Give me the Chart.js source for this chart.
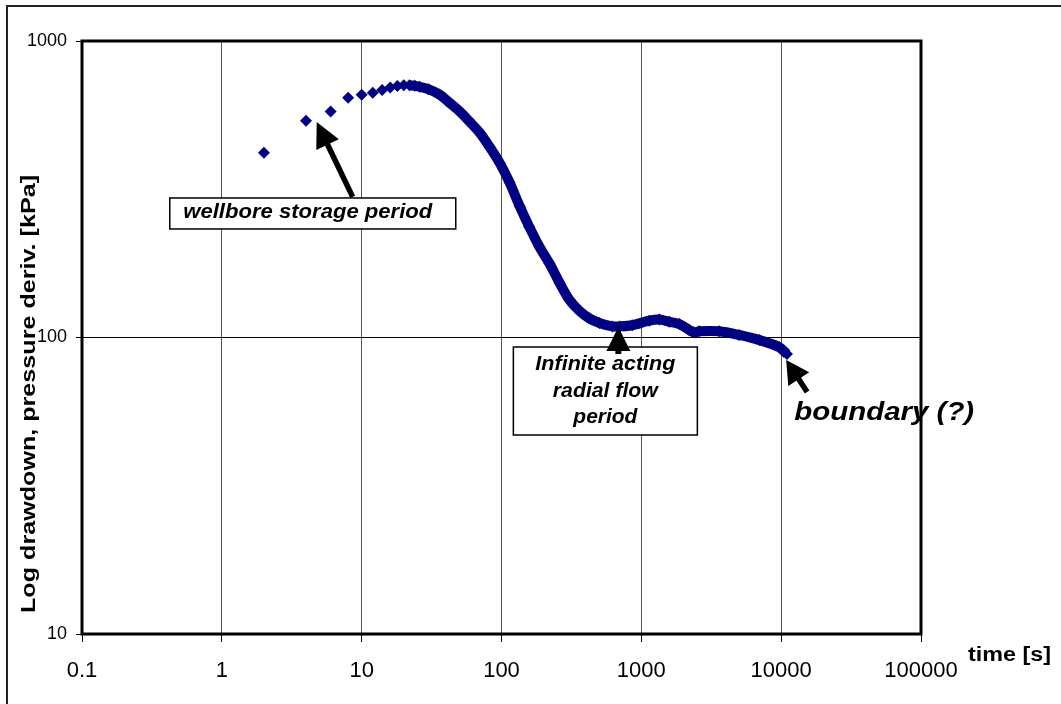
<!DOCTYPE html>
<html>
<head>
<meta charset="utf-8">
<script src="https://cdn.jsdelivr.net/npm/chart.js@4.4.0/dist/chart.umd.min.js"></script>
<style>
  html, body { margin: 0; padding: 0; background: #fff; }
  #wrap { width: 1061px; height: 704px; }
</style>
</head>
<body>
<div id="wrap"><canvas id="myChart" width="1061" height="704"></canvas></div>
<script>
// pressure derivative vs. elapsed time (drawdown test)
var times = [2, 4, 6, 8, 10, 12, 14, 16, 18, 20, 22, 24, 26, 30, 36, 42, 50, 59, 70, 82, 97, 114, 135, 158, 187, 220, 260, 306, 361, 425, 501, 620, 700, 860, 1140, 1345, 1585, 1870, 2200, 2390, 2600, 3600, 5000, 7000, 9700, 11000];
var derivs = [420, 538, 578, 644, 659, 669, 683, 697, 705, 709, 709, 706, 701, 688, 660, 622, 580, 535, 490, 440, 388, 334, 277, 236, 202, 178, 153, 134, 123, 116, 112, 109, 109, 110, 114, 115, 113, 111, 106, 104, 105, 105, 102, 98, 92.7, 88];

var xTicks = [0.1, 1, 10, 100, 1000, 10000, 100000];
var xTickLabels = ['0.1', '1', '10', '100', '1000', '10000', '100000'];
var yTicks = [10, 100, 1000];
var yTickLabels = ['10', '100', '1000'];

// time from which the readings merge into a continuous band
var bandStart = 21;

var navy = '#000080';

// callouts, anchored in data units (time, kPa)
var callouts = {
  storage: { box: [4.47, 262], w: 286, h: 31, tip: [4.77, 533], tail: [8.62, 298] },
  radial: { box: [553, 66], w: 184, h: 88, tip: [685, 108.5], tail: [685, 88] },
  boundary: { text: [12390, 52.7], tip: [10856, 84], tail: [15330, 65.5] }
};

function fitText(ctx, text, x, y, font, width, align) {
  ctx.save();
  ctx.font = font;
  ctx.textAlign = align || 'left';
  ctx.textBaseline = 'alphabetic';
  var sx = width / ctx.measureText(text).width;
  ctx.translate(x, y);
  ctx.scale(sx, 1);
  ctx.fillStyle = '#000';
  ctx.fillText(text, 0, 0);
  ctx.restore();
}

function drawArrow(ctx, x1, y1, x2, y2, headLen, headW, shaftW) {
  var dx = x2 - x1, dy = y2 - y1;
  var len = Math.sqrt(dx * dx + dy * dy);
  var ux = dx / len, uy = dy / len;
  var nx = -uy, ny = ux;
  ctx.save();
  ctx.strokeStyle = '#000';
  ctx.fillStyle = '#000';
  ctx.lineWidth = shaftW;
  ctx.beginPath();
  ctx.moveTo(x1, y1);
  ctx.lineTo(x2 - ux * headLen * 0.8, y2 - uy * headLen * 0.8);
  ctx.stroke();
  ctx.beginPath();
  ctx.moveTo(x2, y2);
  ctx.lineTo(x2 - ux * headLen + nx * headW / 2, y2 - uy * headLen + ny * headW / 2);
  ctx.lineTo(x2 - ux * headLen - nx * headW / 2, y2 - uy * headLen - ny * headW / 2);
  ctx.closePath();
  ctx.fill();
  ctx.restore();
}

function drawBox(ctx, cx, cy, w, h) {
  ctx.save();
  ctx.fillStyle = '#fff';
  ctx.strokeStyle = '#000';
  ctx.lineWidth = 1.5;
  ctx.fillRect(cx - w / 2, cy - h / 2, w, h);
  ctx.strokeRect(cx - w / 2, cy - h / 2, w, h);
  ctx.restore();
}

var decorations = {
  id: 'decorations',
  afterDraw: function(chart) {
    var ctx = chart.ctx;
    var xs = chart.scales.x, ys = chart.scales.y;
    var a = chart.chartArea;
    var px = function(p) { return [xs.getPixelForValue(p[0]), ys.getPixelForValue(p[1])]; };

    // outer frame (open to the right and bottom)
    ctx.save();
    ctx.strokeStyle = '#222';
    ctx.lineWidth = 2;
    ctx.beginPath();
    ctx.moveTo(7, 704);
    ctx.lineTo(7, 6);
    ctx.lineTo(1061, 6);
    ctx.stroke();
    // plot area frame
    ctx.strokeStyle = '#000';
    ctx.lineWidth = 3;
    ctx.strokeRect(a.left, a.top, a.right - a.left, a.bottom - a.top);
    ctx.restore();

    // wellbore storage
    var s = callouts.storage;
    var b = px(s.box), t = px(s.tip), f = px(s.tail);
    drawBox(ctx, b[0], b[1], s.w, s.h);
    fitText(ctx, 'wellbore storage period', b[0] - 5, b[1] - s.h / 2 + 20, 'italic bold 20px "Liberation Sans"', 249, 'center');
    drawArrow(ctx, f[0], f[1], t[0], t[1], 25, 25, 5.5);

    // radial flow
    var r = callouts.radial;
    b = px(r.box); t = px(r.tip); f = px(r.tail);
    drawBox(ctx, b[0], b[1], r.w, r.h);
    var top = b[1] - r.h / 2;
    fitText(ctx, 'Infinite acting', b[0], top + 23, 'italic bold 20px "Liberation Sans"', 140, 'center');
    fitText(ctx, 'radial flow', b[0], top + 49.5, 'italic bold 20px "Liberation Sans"', 105, 'center');
    fitText(ctx, 'period', b[0], top + 76, 'italic bold 20px "Liberation Sans"', 64, 'center');
    drawArrow(ctx, f[0], f[1], t[0], t[1], 24, 24, 6);

    // boundary
    var q = callouts.boundary;
    t = px(q.tip); f = px(q.tail);
    drawArrow(ctx, f[0], f[1], t[0], t[1], 23, 25, 5.5);
    var p = px(q.text);
    fitText(ctx, 'boundary (?)', p[0], p[1], 'italic bold 26px "Liberation Sans"', 180, 'left');

    // axis titles
    fitText(ctx, 'time [s]', 968, 661, 'bold 20px "Liberation Sans"', 83, 'left');
    ctx.save();
    ctx.translate(35, (175 + 613) / 2);
    ctx.rotate(-Math.PI / 2);
    fitText(ctx, 'Log drawdown, pressure deriv. [kPa]', 0, 0, 'bold 21px "Liberation Sans"', 438, 'center');
    ctx.restore();
  }
};

function createChart(chartId) {
  var ctx = document.getElementById(chartId).getContext('2d');
  var points = times.map(function(tm, i) { return { x: tm, y: derivs[i] }; });
  return new Chart(ctx, {
    type: 'scatter',
    data: {
      datasets: [{
        data: points,
        showLine: true,
        borderColor: navy,
        borderWidth: 10,
        tension: 0.3,
        pointStyle: 'rectRot',
        pointRadius: 6,
        pointBackgroundColor: navy,
        pointBorderColor: navy,
        pointBorderWidth: 0,
        clip: false,
        segment: {
          borderColor: function(c) { return c.p0.parsed.x < bandStart ? 'rgba(0,0,0,0)' : undefined; }
        }
      }]
    },
    options: {
      responsive: false,
      animation: false,
      devicePixelRatio: 1,
      layout: { padding: { left: 0, top: 41, right: 140, bottom: 0 } },
      plugins: { legend: { display: false }, tooltip: { enabled: false } },
      scales: {
        x: {
          type: 'logarithmic',
          min: 0.1,
          max: 100000,
          afterBuildTicks: function(s) { s.ticks = xTicks.map(function(v) { return { value: v }; }); },
          afterFit: function(s) { s.height = 70; },
          ticks: {
            callback: function(v, i) { return xTickLabels[i]; },
            font: { family: '"Liberation Sans"', size: 22 },
            color: '#000',
            padding: 16,
            maxRotation: 0,
            autoSkip: false
          },
          grid: { color: '#555', lineWidth: 1, tickLength: 8, tickColor: '#000' },
          border: { display: false }
        },
        y: {
          type: 'logarithmic',
          min: 10,
          max: 1000,
          afterBuildTicks: function(s) { s.ticks = yTicks.map(function(v) { return { value: v }; }); },
          afterFit: function(s) { s.width = 82; },
          ticks: {
            callback: function(v, i) { return yTickLabels[i]; },
            font: { family: '"Liberation Sans"', size: 18 },
            color: '#000',
            padding: 9,
            autoSkip: false
          },
          grid: { color: '#000', lineWidth: 1, tickLength: 6, tickColor: '#000' },
          border: { display: false }
        }
      }
    },
    plugins: [decorations]
  });
}

createChart('myChart');
</script>
</body>
</html>
